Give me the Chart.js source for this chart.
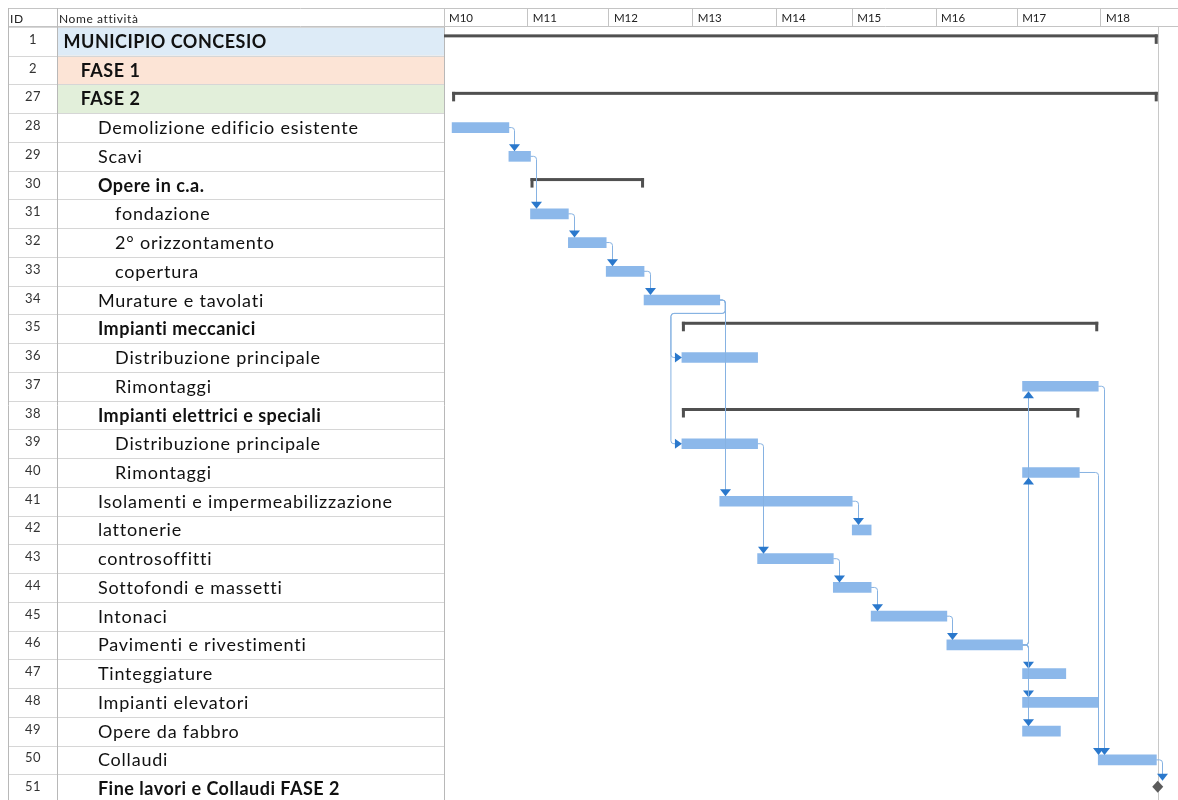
<!DOCTYPE html>
<html><head><meta charset="utf-8">
<script src="https://cdn.jsdelivr.net/npm/chart.js@4"></script>
<style>html,body{margin:0;padding:0;overflow:hidden;background:#fff}#wrap{width:1178px;height:803px;position:relative}</style>
</head><body><div id="wrap"><canvas id="c"></canvas></div>
<script>
// ---------- DATA ----------
const rowIds = ['1','2','27','28','29','30','31','32','33','34','35','36','37','38','39','40','41','42','43','44','45','46','47','48','49','50','51'];
const rowNames = ['MUNICIPIO CONCESIO','FASE 1','FASE 2','Demolizione edificio esistente','Scavi','Opere in c.a.','fondazione','2° orizzontamento','copertura','Murature e tavolati','Impianti meccanici','Distribuzione principale','Rimontaggi','Impianti elettrici e speciali','Distribuzione principale','Rimontaggi','Isolamenti e impermeabilizzazione','lattonerie','controsoffitti','Sottofondi e massetti','Intonaci','Pavimenti e rivestimenti','Tinteggiature','Impianti elevatori','Opere da fabbro','Collaudi','Fine lavori e Collaudi FASE 2'];
const rowLevels = [0,1,1,2,2,2,3,3,3,2,2,3,3,2,3,3,2,2,2,2,2,2,2,2,2,2,2];
const rowBold   = [1,1,1,0,0,1,0,0,0,0,1,0,0,1,0,0,0,0,0,0,0,0,0,0,0,0,1];
// task bars, in days from start of M10
const taskStart = [null,null,null,3,24,null,32,46,60,74,null,88,214,null,88,214,102,151,116,144,158,186,214,214,214,242,null];
const taskEnd   = [null,null,null,24,32,null,46,60,74,102,null,116,242,null,116,235,151,158,144,158,186,214,230,242,228,263.5,null];
// summary bars
const summaryStart = [-30,null,3,null,null,32,null,null,null,null,88,null,null,88,null,null,null,null,null,null,null,null,null,null,null,null,null];
const summaryEnd   = [264,null,264,null,null,74,null,null,null,null,242,null,null,235,null,null,null,null,null,null,null,null,null,null,null,null,null];
// milestones
const milestoneAt  = [null,null,null,null,null,null,null,null,null,null,null,null,null,null,null,null,null,null,null,null,null,null,null,null,null,null,264];
const projectEnd = 264;
// timeline ticks
const monthTicks  = [0,31,61,92,123,151,182,212,243];
const monthLabels = ['M10','M11','M12','M13','M14','M15','M16','M17','M18'];
const xMax = 271.5;
// dependencies [predecessor row, successor row]
const links = [[3,4],[4,6],[6,7],[7,8],[8,9],[9,11],[9,14],[9,16],[14,18],[16,17],[18,19],[19,20],[20,21],[21,22],[21,23],[21,24],[21,12],[21,15],[12,25],[15,25],[25,26]];

// ---------- STYLE ----------
const ST = {bar:'#8CB8EA', link:'#86B2E2', arrow:'#2A78CC', summary:'#505050', milestone:'#5B5B5B',
  endLine:'#C8C8C8', gridV:'#B8B8B8', gridH:'#D6D6D6', head:'#C4C4C4',
  fills:{0:'#DDEBF7',1:'#FCE4D6',2:'#E2EFDA'}, font:'Lato'};
const TBL = {left:8, nameX:57, headTop:8};

function rowStart(i){ return taskStart[i]!=null?taskStart[i]:(milestoneAt[i]!=null?milestoneAt[i]:summaryStart[i]); }
function rowEnd(i){ return taskEnd[i]!=null?taskEnd[i]:(milestoneAt[i]!=null?milestoneAt[i]:summaryEnd[i]); }

function roundedPath(ctx, pts, r){
  ctx.beginPath(); ctx.moveTo(pts[0][0], pts[0][1]);
  for(let k=1;k<pts.length-1;k++) ctx.arcTo(pts[k][0],pts[k][1],pts[k+1][0],pts[k+1][1],r);
  ctx.lineTo(pts[pts.length-1][0], pts[pts.length-1][1]);
  ctx.stroke();
}
function tri(ctx, a,b,c){ ctx.beginPath(); ctx.moveTo(a[0],a[1]); ctx.lineTo(b[0],b[1]); ctx.lineTo(c[0],c[1]); ctx.closePath(); ctx.fill(); }
function setSpacing(ctx, v){ if('letterSpacing' in ctx) ctx.letterSpacing = v; }

const tablePlugin = {
  id:'table',
  beforeDraw(chart){
    const ctx=chart.ctx, y=chart.scales.y, ca=chart.chartArea;
    const rowH = y.getPixelForValue(1)-y.getPixelForValue(0);
    const right = ca.left;
    ctx.save();
    ctx.fillStyle='#fff'; ctx.fillRect(0,0,chart.width,chart.height);
    rowIds.forEach((id,i)=>{
      const top=y.getPixelForValue(i)-rowH/2;
      const f=ST.fills[i];
      if(f){ ctx.fillStyle=f; ctx.fillRect(TBL.nameX, top, right-TBL.nameX, rowH); }
    });
    // horizontal lines
    ctx.lineWidth=1; ctx.strokeStyle=ST.gridH;
    for(let i=0;i<=rowIds.length;i++){
      const yy=Math.round(y.getPixelForValue(0)-rowH/2+i*rowH)+0.5;
      ctx.beginPath(); ctx.moveTo(TBL.left,yy); ctx.lineTo(right,yy); ctx.stroke();
    }
    // header lines
    ctx.strokeStyle=ST.head;
    ctx.beginPath(); ctx.moveTo(TBL.left,TBL.headTop+0.5); ctx.lineTo(chart.width,TBL.headTop+0.5); ctx.stroke();
    ctx.beginPath(); ctx.moveTo(TBL.left,Math.round(ca.top)-0.5); ctx.lineTo(chart.width,Math.round(ca.top)-0.5); ctx.stroke();
    // verticals
    ctx.strokeStyle=ST.gridV;
    [TBL.left, TBL.nameX, right].forEach(xx=>{
      ctx.beginPath(); ctx.moveTo(Math.round(xx)+0.5,TBL.headTop); ctx.lineTo(Math.round(xx)+0.5,chart.height); ctx.stroke();
    });
    // header text
    ctx.fillStyle='#222'; ctx.textAlign='left'; ctx.textBaseline='alphabetic';
    ctx.font='12px '+ST.font; setSpacing(ctx,'0.6px');
    ctx.fillText('ID', TBL.left+2, 22.5);
    ctx.fillText('Nome attività', TBL.nameX+2, 22.5);
    // rows text
    rowIds.forEach((id,i)=>{
      const yc=y.getPixelForValue(i);
      ctx.fillStyle='#333'; ctx.textAlign='center'; ctx.font='13px '+ST.font; setSpacing(ctx,'0.4px');
      ctx.fillText(id, (TBL.left+TBL.nameX)/2+0.5, yc+2.5);
      ctx.fillStyle='#111'; ctx.textAlign='left';
      ctx.font=(rowBold[i]?'bold ':'')+'18px '+ST.font; setSpacing(ctx, rowBold[i]?'0.5px':'0.8px');
      ctx.fillText(rowNames[i], 63.5+rowLevels[i]*17.2, yc+6.5);
    });
    setSpacing(ctx,'0px');
    ctx.restore();
  },
  afterDatasetsDraw(chart){
    const ctx=chart.ctx, x=chart.scales.x, y=chart.scales.y, ca=chart.chartArea;
    const rowH = y.getPixelForValue(1)-y.getPixelForValue(0);
    ctx.save();
    ctx.beginPath(); ctx.rect(ca.left, ca.top, ca.right-ca.left, ca.bottom-ca.top); ctx.clip();
    // project end line
    const pe=Math.round(x.getPixelForValue(projectEnd))+0.5;
    ctx.strokeStyle=ST.endLine; ctx.lineWidth=1;
    ctx.beginPath(); ctx.moveTo(pe,ca.top); ctx.lineTo(pe,ca.bottom); ctx.stroke();
    // summaries
    ctx.fillStyle=ST.summary;
    summaryStart.forEach((s,i)=>{
      if(s==null) return;
      const yc=y.getPixelForValue(i), x1=x.getPixelForValue(s), x2=x.getPixelForValue(summaryEnd[i]);
      ctx.fillRect(x1, yc-7, x2-x1, 3);
      ctx.fillRect(x1, yc-7, 3, 9.5);
      ctx.fillRect(x2-3, yc-7, 3, 9.5);
    });
    // milestones
    ctx.fillStyle=ST.milestone;
    milestoneAt.forEach((m,i)=>{
      if(m==null) return;
      const yc=y.getPixelForValue(i)-2, xm=x.getPixelForValue(m);
      ctx.beginPath(); ctx.moveTo(xm,yc-6); ctx.lineTo(xm+5.5,yc); ctx.lineTo(xm,yc+6); ctx.lineTo(xm-5.5,yc); ctx.closePath(); ctx.fill();
    });
    // links
    ctx.lineWidth=1;
    links.forEach(([a,b])=>{
      const xe=x.getPixelForValue(rowEnd(a)), yp=y.getPixelForValue(a);
      const xs=x.getPixelForValue(rowStart(b)), yb=y.getPixelForValue(b);
      const isMs = milestoneAt[b]!=null;
      const topB = isMs ? yb-8 : yb-5, botB = yb+5;
      ctx.strokeStyle=ST.link; ctx.fillStyle=ST.arrow;
      if(xs < xe-1){
        const xr=xe+5.5, yTurn=yp+rowH/2-1, xl=xs-11;
        roundedPath(ctx, [[xe,yp],[xr,yp],[xr,yTurn],[xl,yTurn],[xl,yb],[xs-6,yb]], 3);
        tri(ctx,[xs,yb],[xs-7,yb-5],[xs-7,yb+5]);
      } else {
        const ax=Math.round(Math.max(xe+5.5, xs))+0.5;
        if(b>a){
          roundedPath(ctx, [[xe,yp],[ax,yp],[ax,topB-6]], 3);
          tri(ctx,[ax,topB],[ax-5.5,topB-7],[ax+5.5,topB-7]);
        } else {
          roundedPath(ctx, [[xe,yp],[ax,yp],[ax,botB+6]], 3);
          tri(ctx,[ax,botB],[ax-5.5,botB+7],[ax+5.5,botB+7]);
        }
      }
    });
    ctx.restore();
  }
};

new Chart(document.getElementById('c'), {
  type:'bar',
  data:{
    labels: rowIds,
    datasets:[{
      label:'Attività',
      data: taskStart.map((s,i)=> s==null?null:[s, taskEnd[i]]),
      backgroundColor: ST.bar,
      borderWidth:0,
      barThickness:10
    }]
  },
  options:{
    indexAxis:'y', responsive:true, maintainAspectRatio:false, animation:false,
    layout:{padding:{left:444, top:TBL.headTop, right:0, bottom:0}},
    plugins:{legend:{display:false}, tooltip:{enabled:false}},
    scales:{
      x:{
        type:'linear', position:'top', min:0, max:xMax,
        afterBuildTicks(scale){ scale.ticks = monthTicks.map(v=>({value:v})); },
        afterFit(scale){ scale.height = 19; },
        grid:{drawOnChartArea:false, drawTicks:true, tickLength:19, color:ST.head, lineWidth:1},
        border:{display:false},
        ticks:{autoSkip:false, maxRotation:0, align:'start', labelOffset:5, padding:-17,
          color:'#222', font:{family:ST.font, size:11.5},
          callback:(v,i)=>monthLabels[i]}
      },
      y:{display:false, grid:{display:false}}
    }
  },
  plugins:[tablePlugin]
});
</script>
</body></html>
